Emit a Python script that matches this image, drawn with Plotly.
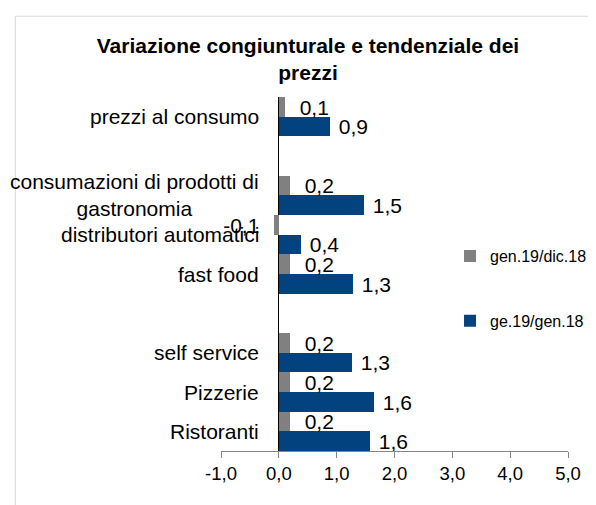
import plotly.graph_objects as go

# Categories from bottom to top (blank spacer slots keep the original gaps)
categories = ["Ristoranti", "Pizzerie", "self service", "gap_a", "fast food",
              "distributori automatici", "consumazioni di prodotti di gastronomia",
              "gap_b", "prezzi al consumo"]
category_labels = ["Ristoranti", "Pizzerie", "self service", "", "fast food",
                   "distributori automatici", "consumazioni di prodotti di<br>gastronomia",
                   "", "prezzi al consumo"]

series_cong_name = "gen.19/dic.18"
series_cong = [0.2, 0.2, 0.2, None, 0.2, -0.08, 0.2, None, 0.1]

series_tend_name = "ge.19/gen.18"
series_tend = [1.57, 1.64, 1.26, None, 1.28, 0.39, 1.48, None, 0.89]

x_tick_vals = [-1, 0, 1, 2, 3, 4, 5]
x_tick_text = ["-1,0", "0,0", "1,0", "2,0", "3,0", "4,0", "5,0"]

FONT = "Arial, Liberation Sans, sans-serif"
NB = "\u00a0"


def fmt(v):
    return "" if v is None else f"{v:.1f}".replace(".", ",")


# The page body adds an 8 px offset; margins compensate for it.
OFF = 8

fig = go.Figure()
fig.add_trace(go.Bar(
    y=categories, x=series_tend, orientation="h", name=series_tend_name,
    marker=dict(color="#02437f", line=dict(width=0)),
    text=[fmt(v) for v in series_tend],
    texttemplate=NB + "%{text}", textposition="outside",
    textfont=dict(family=FONT, size=21, color="#000000"),
    constraintext="none", cliponaxis=False,
    legendgroup="b", legendrank=2, hoverinfo="skip",
))
fig.add_trace(go.Bar(
    y=categories, x=series_cong, orientation="h", name=series_cong_name,
    marker=dict(color="#808080", line=dict(width=0)),
    text=[fmt(v) for v in series_cong],
    texttemplate=NB + NB + "%{text}" + NB + NB, textposition="outside",
    textfont=dict(family=FONT, size=21, color="#000000"),
    constraintext="none", cliponaxis=False,
    legendgroup="a", legendrank=1, hoverinfo="skip",
))

annotations = []
for cat, lab in zip(categories, category_labels):
    if lab:
        annotations.append(dict(
            x=0, y=cat, xref="x", yref="y", text=lab, showarrow=False,
            xanchor="right", yanchor="middle", xshift=-18, align="center",
            font=dict(family=FONT, size=21, color="#000000"),
        ))

fig.update_layout(
    width=596, height=505,
    paper_bgcolor="white", plot_bgcolor="white",
    margin=dict(l=221 - OFF, r=19 + OFF, t=97 - OFF, b=54 + OFF),
    separators=",.",
    barmode="group", bargap=0, bargroupgap=0,
    font=dict(family=FONT, color="#000000"),
    title=dict(
        text="<b>Variazione congiunturale e tendenziale dei<br>prezzi</b>",
        x=(308 - OFF) / 596, xanchor="center", xref="container",
        y=1 - 45 / 505, yanchor="top", yref="container",
        font=dict(family=FONT, size=21, color="#000000"),
    ),
    xaxis=dict(
        range=[x_tick_vals[0], x_tick_vals[-1]],
        tickvals=x_tick_vals, ticktext=x_tick_text,
        showgrid=False, showline=True, linecolor="#868686", linewidth=1,
        ticks="outside", ticklen=6, tickcolor="#868686", tickwidth=1,
        zeroline=True, zerolinecolor="#000000", zerolinewidth=1,
        tickfont=dict(family=FONT, size=18.5, color="#000000"),
        fixedrange=True,
    ),
    yaxis=dict(
        type="category", categoryorder="array", categoryarray=categories,
        showticklabels=False, showgrid=False, ticks="", showline=False,
        zeroline=False, fixedrange=True,
    ),
    legend=dict(
        x=0.66, y=0.5985, xanchor="left", yanchor="top",
        traceorder="grouped", tracegroupgap=41,
        font=dict(family=FONT, size=16, color="#000000"),
        bgcolor="rgba(0,0,0,0)",
    ),
    annotations=annotations,
    shapes=[dict(
        type="rect", xref="paper", yref="paper",
        x0=(10 - 221) / 356, x1=(620 - 221) / 356,
        y0=(451 - 530) / 355, y1=(451 - 15) / 355,
        line=dict(color="#d9d9d9", width=1), fillcolor="rgba(0,0,0,0)",
        layer="below",
    )],
)

fig.write_html("out.html")
